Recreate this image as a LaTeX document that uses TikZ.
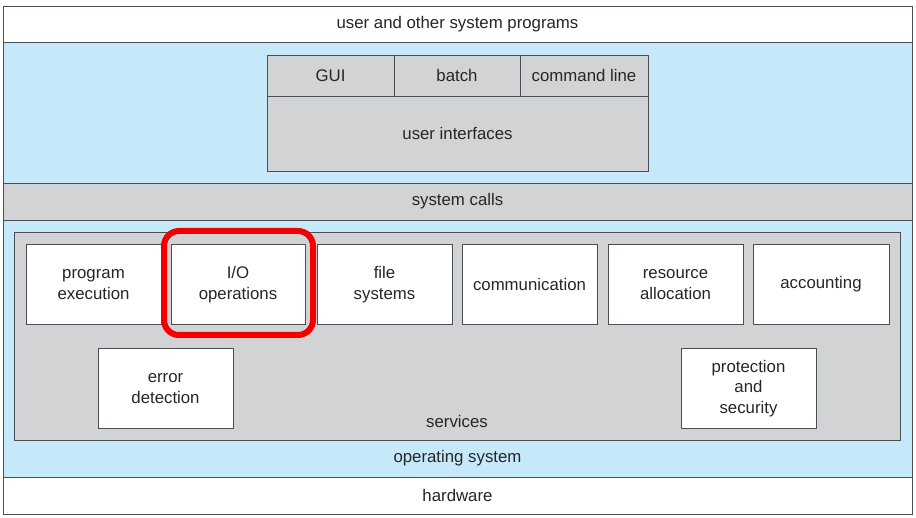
\documentclass[tikz,border=0pt]{standalone}
\usepackage{fontspec}
\setmainfont{Liberation Sans}
\definecolor{osblue}{HTML}{C6E9F9}
\definecolor{panelgray}{HTML}{D1D3D5}
\definecolor{edge}{HTML}{4A4F55}
\definecolor{hlred}{HTML}{F20000}
\begin{document}
\begin{tikzpicture}[x=1pt,y=-1pt,
  every node/.style={font=\fontsize{16.8}{20.5}\selectfont, inner sep=0pt, align=center, text=black!85},
  band/.style={draw=edge, line width=0.9pt, rectangle, minimum width=909pt},
  svcbox/.style={draw=edge, line width=0.8pt, fill=white, rectangle, minimum width=135pt, minimum height=79.5pt},
  uicell/.style={draw=edge, line width=0.8pt, fill=panelgray, rectangle},
  lbl/.style={}]
\useasboundingbox (0,0) rectangle (916,518);
% layers
\node[band, fill=white, minimum height=36pt] (userprog) at (457.5,24) {user and other system programs};
\node[band, fill=osblue, minimum height=435pt] (os) at (457.5,259.5) {};
\node[band, fill=panelgray, minimum height=37pt] (syscalls) at (457.5,201.5) {system calls};
\node[band, fill=white, minimum height=37pt] (hw) at (457.5,495.5) {hardware};
\node[lbl] (oslabel) at (457.5,458) {operating system};
% user interfaces
\node[uicell, minimum width=127pt, minimum height=41pt] (gui) at (330.5,75.5) {GUI};
\node[uicell, minimum width=126pt, minimum height=41pt] (batch) at (457,75.5) {batch};
\node[uicell, minimum width=128pt, minimum height=41pt] (cmd) at (584,75.5) {command line};
\node[uicell, minimum width=381pt, minimum height=75pt] (ui) at (457.5,133.5) {user interfaces};
% services panel
\node[draw=edge, line width=0.8pt, fill=panelgray, rectangle, minimum width=886pt, minimum height=208pt] (panel) at (457,336) {};
\node[lbl] (services) at (457,421) {services};
\node[svcbox] (prog) at (93.5,284.5) {program\\execution};
\node[svcbox, minimum width=134pt] (io) at (238,284.5) {I/O\\operations};
\node[svcbox] (fs) at (384.5,284.5) {file\\systems};
\node[svcbox] (comm) at (529.5,284.5) {communication};
\node[svcbox] (res) at (675.5,284.5) {resource\\allocation};
\node[svcbox, minimum width=136pt] (acct) at (821,284.5) {accounting};
\node[svcbox] (err) at (165.5,388.5) {error\\detection};
\node[svcbox] (prot) at (748.5,388.5) {protection\\and\\security};
% highlight
\node[draw=hlred, line width=6pt, rounded corners=15pt, rectangle, minimum width=149pt, minimum height=104pt] (hl) at (238.5,283) {};
\end{tikzpicture}
\end{document}
